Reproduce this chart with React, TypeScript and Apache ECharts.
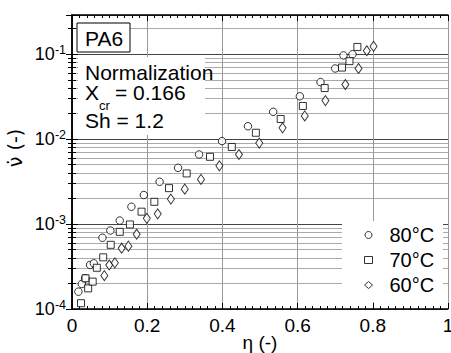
import React, { useEffect, useRef } from 'react';
import * as echarts from 'echarts';

const seriesNames = ['80°C', '70°C', '60°C'];

const x80 = [0.017, 0.026, 0.035, 0.048, 0.058, 0.081, 0.102, 0.127, 0.158, 0.191, 0.233, 0.282, 0.338, 0.399, 0.468, 0.535, 0.606, 0.661, 0.700, 0.722, 0.746];
const y80 = [1.6e-4, 1.97e-4, 2.3e-4, 3.3e-4, 3.45e-4, 6.9e-4, 8.4e-4, 1.1e-3, 1.6e-3, 2.2e-3, 3.15e-3, 4.6e-3, 6.6e-3, 9.5e-3, 1.42e-2, 2.1e-2, 3.2e-2, 4.7e-2, 6.8e-2, 9.7e-2, 1.0e-1];

const x70 = [0.024, 0.036, 0.043, 0.055, 0.066, 0.083, 0.103, 0.127, 0.154, 0.185, 0.219, 0.258, 0.305, 0.367, 0.425, 0.489, 0.555, 0.614, 0.672, 0.718, 0.738, 0.759];
const y70 = [1.17e-4, 2.3e-4, 1.75e-4, 2.1e-4, 3.06e-4, 4.06e-4, 5.7e-4, 8.1e-4, 9.9e-4, 1.4e-3, 1.83e-3, 2.65e-3, 3.95e-3, 6.2e-3, 8.1e-3, 1.19e-2, 1.73e-2, 2.46e-2, 4.0e-2, 6.97e-2, 8.3e-2, 1.22e-1];

const x60 = [0.086, 0.099, 0.114, 0.132, 0.150, 0.172, 0.199, 0.228, 0.263, 0.300, 0.343, 0.392, 0.444, 0.498, 0.560, 0.619, 0.674, 0.727, 0.762, 0.784, 0.802];
const y60 = [2.47e-4, 3.3e-4, 3.5e-4, 5.2e-4, 5.5e-4, 7.6e-4, 1.17e-3, 1.32e-3, 1.97e-3, 2.58e-3, 3.36e-3, 4.85e-3, 6.6e-3, 9.0e-3, 1.36e-2, 1.88e-2, 2.85e-2, 4.4e-2, 6.8e-2, 1.1e-1, 1.24e-1];

const xMin = 0;
const xMax = 1;
const xInterval = 0.2;
const yMin = 1e-4;
const yMax = 0.29;

const FONT = 'Liberation Sans, Arial, sans-serif';

export default function App() {
  const ref = useRef<HTMLDivElement>(null);
  useEffect(() => {
    const chart = echarts.init(ref.current!, null, { renderer: 'svg' });
    const mk = (xs: number[], ys: number[]) => xs.map((v, i) => [v, ys[i]]);
    const markerStyle = { color: '#fff', borderColor: '#000', borderWidth: 1 };
    const yLabelFormatter = (v: number) => {
      const l = Math.log10(v);
      const e = Math.round(l);
      if (Math.abs(l - e) > 1e-6) return '';
      return `{b|10}{s|${e}}`;
    };
    const axisLine = { show: true, lineStyle: { color: '#000', width: 1.5 } };
    const txt = (text: string, x: number, y: number, size: number) => ({
      type: 'text', z: 4, x, y,
      style: { text, font: `${size}px ${FONT}`, fill: '#000', verticalAlign: 'middle', lineHeight: size - 3 },
    });
    const option: any = {
      animation: false,
      backgroundColor: '#fff',
      grid: { left: 72, right: 3, top: 15, bottom: 44, containLabel: false, outerBoundsMode: 'none' },
      xAxis: [
        {
          type: 'value', min: xMin, max: xMax, interval: xInterval, position: 'bottom',
          axisLine,
          axisTick: { show: true, inside: true, length: 6, lineStyle: { color: '#000', width: 1 } },
          minorTick: { show: true, splitNumber: 10, length: 3, lineStyle: { color: '#000', width: 1 } },
          axisLabel: { fontSize: 19, color: '#000', margin: 7, fontFamily: FONT },
          splitLine: { show: true, lineStyle: { color: '#999', width: 1 } },
          name: 'η (-)', nameLocation: 'middle', nameGap: 24, nameMoveOverlap: false,
          nameTextStyle: { fontSize: 19, color: '#000', fontFamily: FONT },
        },
        {
          type: 'value', min: xMin, max: xMax, interval: xInterval, position: 'top',
          axisLine,
          axisTick: { show: true, inside: true, length: 6, lineStyle: { color: '#000', width: 1 } },
          minorTick: { show: true, splitNumber: 10, length: 3, lineStyle: { color: '#000', width: 1 } },
          axisLabel: { show: false },
          splitLine: { show: false },
        },
      ],
      yAxis: [
        {
          type: 'log', logBase: 10, min: yMin, max: yMax, position: 'left',
          axisLine,
          axisTick: { show: true, inside: true, length: 6, lineStyle: { color: '#000', width: 1 } },
          minorTick: { show: true, splitNumber: 9, length: 4, lineStyle: { color: '#000', width: 1 } },
          splitLine: { show: true, lineStyle: { color: '#444', width: 1 } },
          minorSplitLine: { show: true, lineStyle: { color: '#aaa', width: 1 } },
          axisLabel: {
            formatter: yLabelFormatter, margin: 6, color: '#000',
            rich: {
              b: { fontSize: 18, fontFamily: FONT, color: '#000', lineHeight: 22 },
              s: { fontSize: 12.5, fontFamily: FONT, color: '#000', lineHeight: 12, verticalAlign: 'top' },
            },
          },
        },
        {
          type: 'log', logBase: 10, min: yMin, max: yMax, position: 'right',
          axisLine,
          axisTick: { show: true, inside: true, length: 6, lineStyle: { color: '#000', width: 1 } },
          minorTick: { show: true, splitNumber: 9, length: 4, lineStyle: { color: '#000', width: 1 } },
          splitLine: { show: false },
          axisLabel: { show: false },
        },
      ],
      legend: {
        orient: 'vertical', left: 364, top: 225, padding: 0,
        itemWidth: 8, itemHeight: 7, itemGap: 5,
        textStyle: { fontSize: 20, color: '#000', fontFamily: FONT, lineHeight: 20, padding: [0, 0, 0, 12] },
        data: [
          { name: seriesNames[0], icon: 'circle', itemStyle: markerStyle },
          { name: seriesNames[1], icon: 'rect', itemStyle: markerStyle },
          { name: seriesNames[2], icon: 'diamond', itemStyle: markerStyle },
        ],
        z: 10,
      },
      graphic: {
        elements: [
          { type: 'rect', z: 1, shape: { x: 78, y: 57, width: 127, height: 78 }, style: { fill: '#fff' } },
          { type: 'rect', z: 1, shape: { x: 342, y: 221, width: 101, height: 81 }, style: { fill: '#fff' } },
          { type: 'rect', z: 3, shape: { x: 77, y: 23, width: 53, height: 29 }, style: { fill: '#fff', stroke: '#000', lineWidth: 1 } },
          txt('PA6', 85, 38, 21),
          txt('Normalization', 85, 72, 21),
          txt('X', 85, 92, 21),
          txt('cr', 99, 105, 13),
          txt('= 0.166', 115, 92, 21),
          txt('Sh = 1.2', 85, 120.5, 21),
          {
            type: 'text', z: 4, x: 15, y: 148, rotation: Math.PI / 2,
            style: { text: 'ν\u0307 (-)', font: '19px DejaVu Sans, sans-serif', fill: '#000', align: 'center', verticalAlign: 'middle' },
          },
        ],
      },
      series: [
        { name: seriesNames[0], type: 'scatter', data: mk(x80, y80), symbol: 'circle', symbolSize: 7.5, itemStyle: markerStyle, z: 3 },
        { name: seriesNames[1], type: 'scatter', data: mk(x70, y70), symbol: 'rect', symbolSize: 7, itemStyle: markerStyle, z: 3 },
        { name: seriesNames[2], type: 'scatter', data: mk(x60, y60), symbol: 'diamond', symbolSize: [7, 10], itemStyle: markerStyle, z: 3 },
      ],
    };
    chart.setOption(option);
    return () => chart.dispose();
  }, []);
  return <div ref={ref} style={{ width: 451, height: 353, position: 'absolute', left: 0, top: 0 }} />;
}
